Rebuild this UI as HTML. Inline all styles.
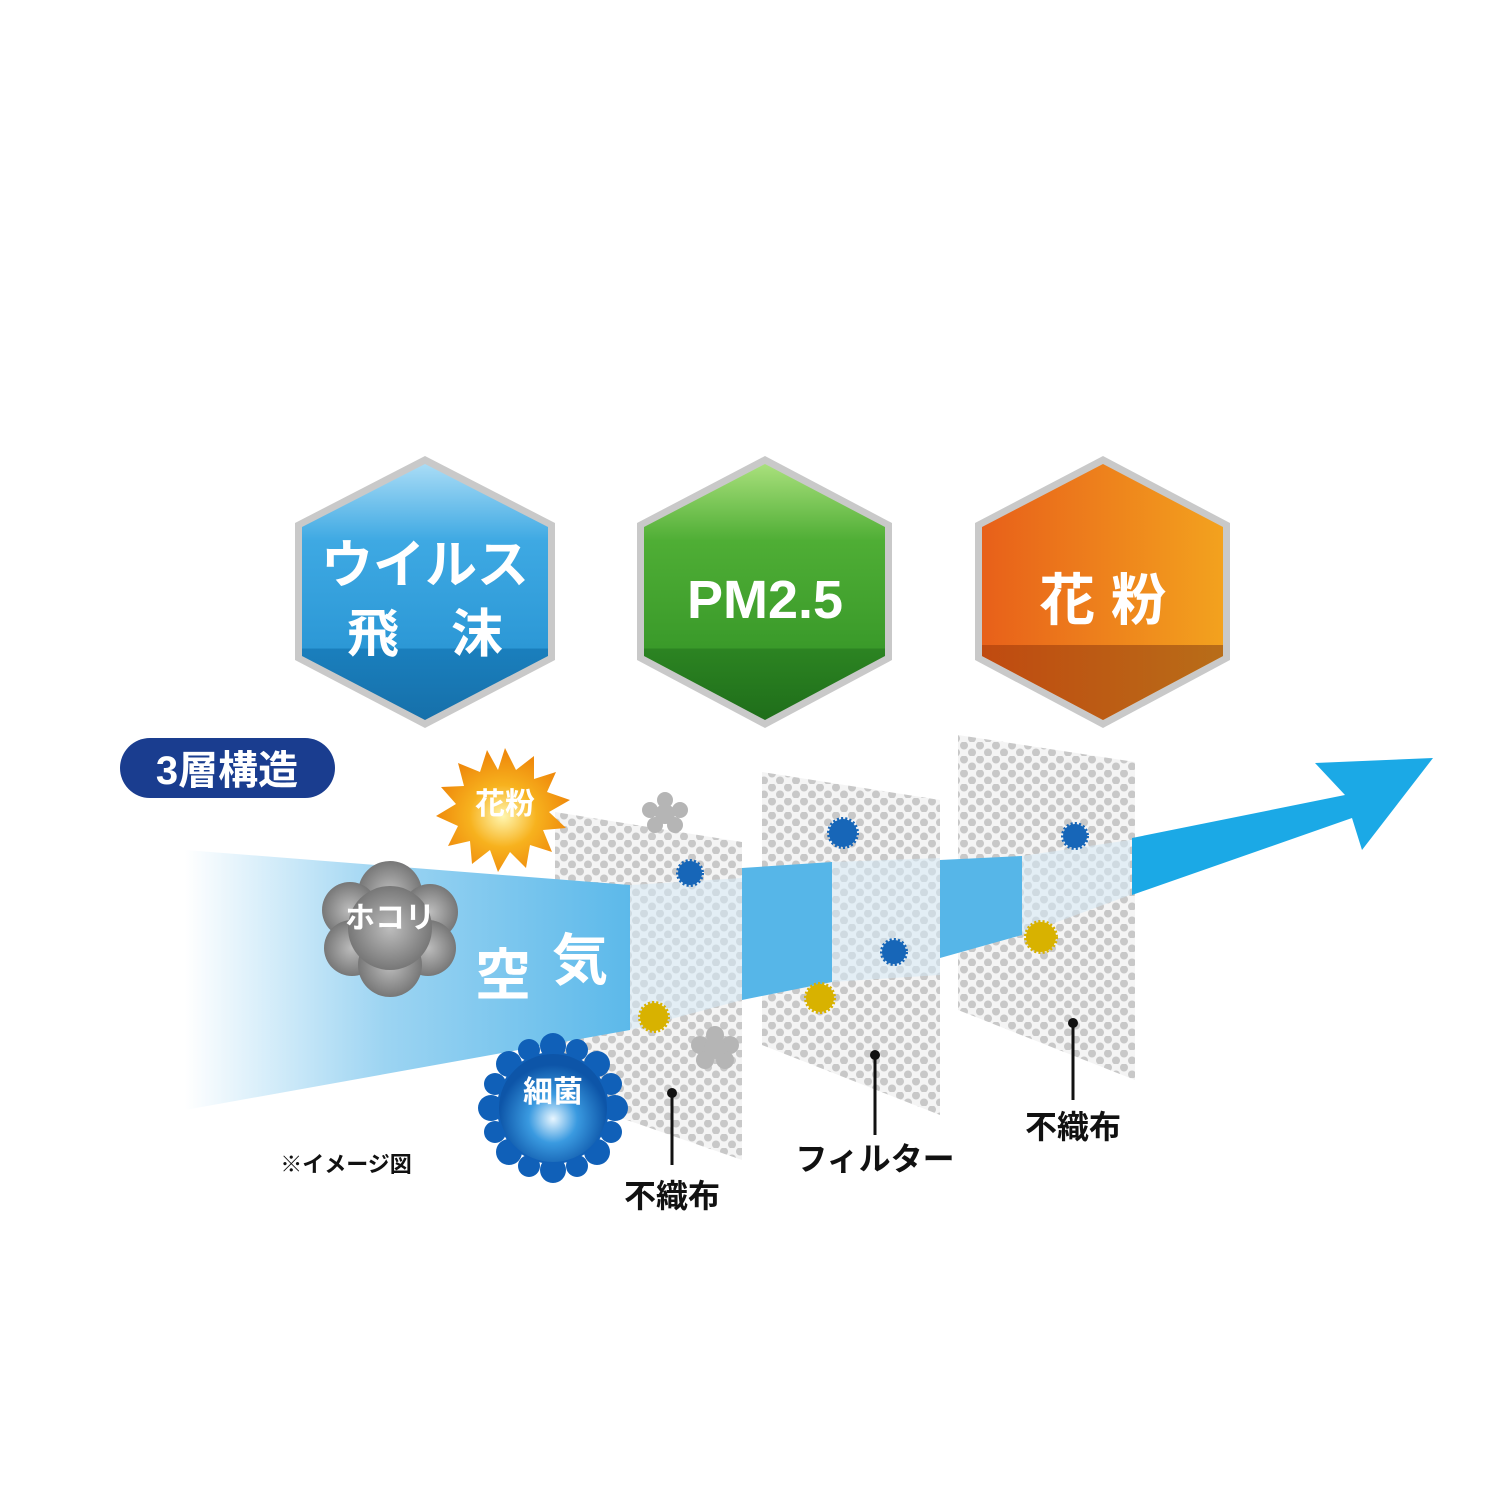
<!DOCTYPE html>
<html><head><meta charset="utf-8"><style>
html,body{margin:0;padding:0;background:#fff;}
svg{display:block;}
text{font-family:"Liberation Sans","Noto Sans CJK JP",sans-serif;font-weight:bold;}
</style></head><body>
<svg width="1500" height="1500" viewBox="0 0 1500 1500" xmlns="http://www.w3.org/2000/svg">
<defs>
<pattern id="dots" width="16" height="14" patternUnits="userSpaceOnUse">
<rect width="16" height="14" fill="#f4f4f4"/>
<circle cx="4" cy="3.5" r="4" fill="#c8c8c8"/>
<circle cx="12" cy="10.5" r="4" fill="#c8c8c8"/>
</pattern>
<linearGradient id="air" x1="185" x2="630" y1="0" y2="0" gradientUnits="userSpaceOnUse">
<stop offset="0" stop-color="#fff"/><stop offset="0.45" stop-color="#9cd4f2"/><stop offset="1" stop-color="#5cb9ea"/>
</linearGradient>
<linearGradient id="hb" x1="0" x2="0" y1="0" y2="1"><stop offset="0" stop-color="#a9dcf6"/><stop offset="0.3" stop-color="#3ea9e3"/><stop offset="0.72" stop-color="#2c98d6"/><stop offset="0.72" stop-color="#1a7fbd"/><stop offset="1" stop-color="#1670aa"/></linearGradient>
<linearGradient id="hg" x1="0" x2="0" y1="0" y2="1"><stop offset="0" stop-color="#a9e07c"/><stop offset="0.3" stop-color="#4fae35"/><stop offset="0.72" stop-color="#3a9a2a"/><stop offset="0.72" stop-color="#2c8422"/><stop offset="1" stop-color="#1f6e1a"/></linearGradient>
<linearGradient id="ho" x1="0" x2="1" y1="0" y2="0"><stop offset="0" stop-color="#e8601a"/><stop offset="1" stop-color="#f3a21e"/></linearGradient>
<linearGradient id="hoB" x1="0" x2="1" y1="0" y2="0"><stop offset="0" stop-color="#c04a10"/><stop offset="1" stop-color="#b86d18"/></linearGradient>
<radialGradient id="sun" cx="0.5" cy="0.55" r="0.5"><stop offset="0" stop-color="#fff6b0"/><stop offset="0.5" stop-color="#f7b21e"/><stop offset="1" stop-color="#ef8a0c"/></radialGradient>
<radialGradient id="germ" cx="0.5" cy="0.6" r="0.5"><stop offset="0" stop-color="#e8f6ff"/><stop offset="0.45" stop-color="#3a9ae0"/><stop offset="1" stop-color="#0d55a8"/></radialGradient>
<radialGradient id="cloud" cx="0.5" cy="0.5" r="0.5"><stop offset="0" stop-color="#bdbdbd"/><stop offset="1" stop-color="#777"/></radialGradient>
</defs>

<g>
<polygon points="425,456 555,523 555,660 425,728 295,660 295,523" fill="#c9c9c9"/>
<polygon points="425,464 548,527 548,656 425,720 302,656 302,527" fill="url(#hb)"/>
<text x="425" y="583" font-size="52" fill="#fff" text-anchor="middle" font-weight="normal">ウイルス</text>
<text x="425" y="652" font-size="52" fill="#fff" text-anchor="middle" font-weight="normal">飛　沫</text>
</g>
<g>
<polygon points="765,456 892,523 892,660 765,728 637,660 637,523" fill="#c9c9c9"/>
<polygon points="765,464 885,527 885,656 765,720 644,656 644,527" fill="url(#hg)"/>
<text x="765" y="618" font-size="54" fill="#fff" text-anchor="middle" font-weight="normal">PM2.5</text>
</g>
<g>
<polygon points="1103,456 1230,523 1230,660 1103,728 975,660 975,523" fill="#c9c9c9"/>
<polygon points="1103,464 1223,527 1223,656 1103,720 982,656 982,527" fill="url(#ho)"/>
<polygon points="982,645 1223,645 1223,656 1103,720 982,656" fill="url(#hoB)"/>
<text x="1103" y="620" font-size="56" fill="#fff" text-anchor="middle" font-weight="normal">花 粉</text>
</g>

<rect x="120" y="738" width="215" height="60" rx="30" fill="#1a3d8f"/>
<text x="227" y="784" font-size="40" fill="#fff" text-anchor="middle">3層構造</text>

<!-- panels -->
<polygon points="555,812 742,842 742,1160 555,1095" fill="url(#dots)"/>
<polygon points="762,772 940,800 940,1115 762,1045" fill="url(#dots)"/>
<polygon points="958,735 1135,762 1135,1080 958,1010" fill="url(#dots)"/>

<!-- air stream -->
<polygon points="185,850 630,885 630,1030 185,1110" fill="url(#air)"/>
<polygon points="630,885 742,878 742,1000 630,1030" fill="#d6eaf6" opacity="0.55"/>
<polygon points="742,868 832,862 832,982 742,1000" fill="#56b6e8"/>
<polygon points="832,862 940,858 940,975 832,982" fill="#d6eaf6" opacity="0.55"/>
<polygon points="940,860 1022,856 1022,935 940,958" fill="#56b6e8"/>
<polygon points="1022,856 1130,840 1130,895 1022,935" fill="#d6eaf6" opacity="0.55"/>
<polygon points="1132,838 1345,795 1315,763 1433,758 1362,850 1352,818 1132,895" fill="#1ba9e6"/>

<circle cx="690" cy="873" r="12" fill="#1766b8" stroke="#1766b8" stroke-width="4" stroke-dasharray="2 2"/>
<circle cx="654" cy="1017" r="14" fill="#d8b200" stroke="#d8b200" stroke-width="4" stroke-dasharray="2 2"/>
<circle cx="843" cy="833" r="14" fill="#1766b8" stroke="#1766b8" stroke-width="4" stroke-dasharray="2 2"/>
<circle cx="894" cy="952" r="12" fill="#1766b8" stroke="#1766b8" stroke-width="4" stroke-dasharray="2 2"/>
<circle cx="820" cy="998" r="14" fill="#d8b200" stroke="#d8b200" stroke-width="4" stroke-dasharray="2 2"/>
<circle cx="1075" cy="836" r="12" fill="#1766b8" stroke="#1766b8" stroke-width="4" stroke-dasharray="2 2"/>
<circle cx="1041" cy="937" r="15" fill="#d8b200" stroke="#d8b200" stroke-width="4" stroke-dasharray="2 2"/>
<g fill="#b5b5b5">
<circle cx="665" cy="800" r="8"/><circle cx="650" cy="810" r="8"/><circle cx="680" cy="810" r="8"/><circle cx="655" cy="825" r="8"/><circle cx="675" cy="825" r="8"/><circle cx="665" cy="814" r="10"/>
<circle cx="715" cy="1035" r="9"/><circle cx="700" cy="1045" r="9"/><circle cx="730" cy="1045" r="9"/><circle cx="705" cy="1060" r="9"/><circle cx="725" cy="1060" r="9"/><circle cx="715" cy="1048" r="11"/>
</g>

<polygon fill="url(#sun)" points="505,748 516,770 534,756 534,779 556,772 547,792 570,800 549,812 566,828 543,830 552,852 530,845 526,868 510,852 498,872 490,850 472,864 470,841 448,846 458,826 436,816 456,804 441,787 464,786 458,763 480,772 487,750 498,770"/>
<text x="505" y="814" font-size="30" fill="#fff" text-anchor="middle">花粉</text>

<g fill="url(#cloud)">
<circle cx="390" cy="893" r="32"/><circle cx="350" cy="910" r="28"/><circle cx="430" cy="912" r="28"/><circle cx="352" cy="948" r="28"/><circle cx="428" cy="948" r="28"/><circle cx="390" cy="965" r="32"/><circle cx="390" cy="928" r="42"/>
</g>
<text x="390" y="928" font-size="30" fill="#fff" text-anchor="middle">ホコリ</text>

<text x="503" y="995" font-size="56" fill="#fff" text-anchor="middle">空</text>
<text x="580" y="980" font-size="56" fill="#fff" text-anchor="middle">気</text>

<g fill="#1060b8">
<circle cx="553" cy="1108" r="56"/>
<circle cx="553" cy="1046" r="13"/><circle cx="553" cy="1170" r="13"/><circle cx="491" cy="1108" r="13"/><circle cx="615" cy="1108" r="13"/>
<circle cx="597" cy="1064" r="13"/><circle cx="509" cy="1064" r="13"/><circle cx="597" cy="1152" r="13"/><circle cx="509" cy="1152" r="13"/>
<circle cx="577" cy="1050" r="11"/><circle cx="529" cy="1050" r="11"/><circle cx="577" cy="1166" r="11"/><circle cx="529" cy="1166" r="11"/>
<circle cx="495" cy="1084" r="11"/><circle cx="611" cy="1084" r="11"/><circle cx="495" cy="1132" r="11"/><circle cx="611" cy="1132" r="11"/>
</g>
<circle cx="553" cy="1108" r="54" fill="url(#germ)"/>
<text x="553" y="1102" font-size="30" fill="#fff" text-anchor="middle">細菌</text>

<g stroke="#111" stroke-width="3"><line x1="672" y1="1093" x2="672" y2="1165"/><line x1="875" y1="1055" x2="875" y2="1135"/><line x1="1073" y1="1023" x2="1073" y2="1100"/></g>
<g fill="#111"><circle cx="672" cy="1093" r="5"/><circle cx="875" cy="1055" r="5"/><circle cx="1073" cy="1023" r="5"/></g>
<text x="672" y="1207" font-size="32" fill="#111" text-anchor="middle">不織布</text>
<text x="875" y="1170" font-size="32" fill="#111" text-anchor="middle">フィルター</text>
<text x="1073" y="1138" font-size="32" fill="#111" text-anchor="middle">不織布</text>
<text x="346" y="1172" font-size="22" fill="#111" text-anchor="middle">※イメージ図</text>
</svg>
</body></html>
